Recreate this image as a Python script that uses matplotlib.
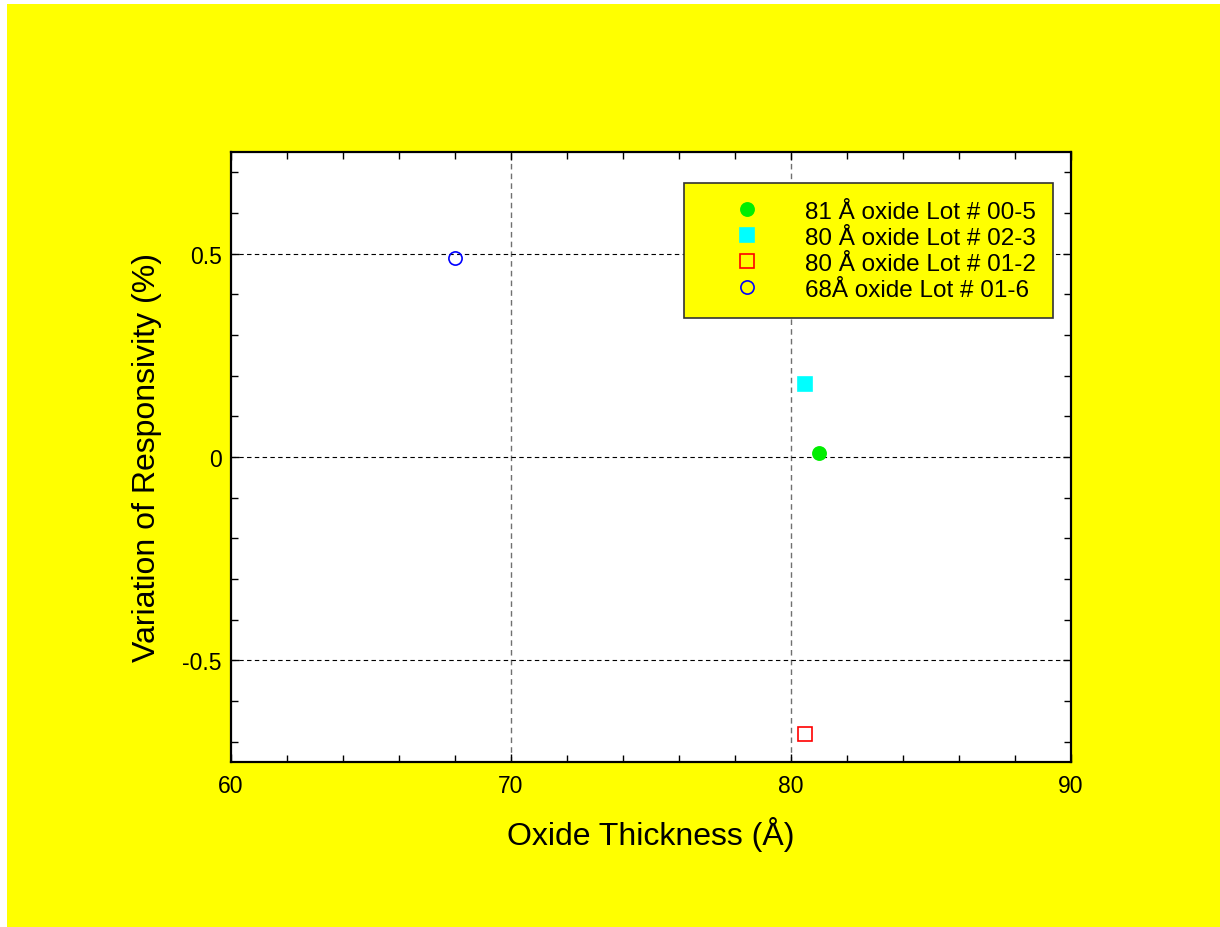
import numpy as np
from matplotlib import pyplot as plt
from matplotlib.patches import Rectangle
from matplotlib.ticker import MultipleLocator

plt.rcParams['font.family'] = ['Liberation Sans', 'DejaVu Sans']

# Data
labels = ['81 Å oxide Lot # 00-5', '80 Å oxide Lot # 02-3',
          '80 Å oxide Lot # 01-2', '68Å oxide Lot # 01-6']
thickness = [81.0, 80.5, 80.5, 68.0]
variation = [0.01, 0.18, -0.68, 0.49]
markers = ['o', 's', 's', 'o']
faces = ['#00ee00', '#00ffff', 'none', 'none']
edges = ['#00ee00', '#00ffff', '#ff0000', '#0000ff']

fig = plt.figure(figsize=(12.2, 9.28), dpi=100, facecolor='white')
# yellow page, small white margin on the left and top
fig.patches.append(Rectangle((7/1220, 0), 1 - 7/1220, 1 - 5/928,
                             transform=fig.transFigure, facecolor='#ffff00',
                             edgecolor='none', zorder=-10))

ax = fig.add_axes([231/1220, 1 - 763/928, 840/1220, 610/928])
ax.set_facecolor('white')

for x, y, m, fc, ec, lab in zip(thickness, variation, markers, faces, edges, labels):
    ax.plot([x], [y], linestyle='none', marker=m, markersize=9.5,
            markerfacecolor=fc, markeredgecolor=ec, markeredgewidth=1.2,
            label=lab, zorder=5)

ax.set_xlim(60, 90)
ax.set_ylim(-0.75, 0.75)
ax.xaxis.set_minor_locator(MultipleLocator(2))
ax.yaxis.set_minor_locator(MultipleLocator(0.1))
ax.set_yticks([-0.5, 0, 0.5])
ax.set_yticklabels(['-0.5', '0', '0.5'])
ax.set_xticks([60, 70, 80, 90])
ax.set_xticklabels(['60', '70', '80', '90'])

ax.tick_params(which='both', direction='in', top=True, right=True,
               labelsize=16.5, color='black')
ax.tick_params(which='major', length=6, width=1)
ax.tick_params(which='minor', length=5, width=1)
ax.tick_params(axis='x', which='major', pad=9)
ax.tick_params(axis='y', which='major', pad=6.5)
for s in ax.spines.values():
    s.set_linewidth(1.6)

# grid lines at the major ticks
for gx in [70, 80]:
    ax.axvline(gx, color='#707070', linestyle=(0, (4, 3)), linewidth=1, zorder=1)
for gy in [-0.5, 0, 0.5]:
    ax.axhline(gy, color='black', linestyle=(0, (4, 3)), linewidth=0.8, zorder=1)

ax.set_xlabel('Oxide Thickness (Å)', fontsize=23, labelpad=13)
ax.set_ylabel('Variation of Responsivity (%)', fontsize=23, labelpad=14.5)

leg = ax.legend(loc='upper left', bbox_to_anchor=((684-231)/840, (763-184)/610),
                fontsize=17.5, frameon=True, fancybox=False, borderpad=0.72,
                handlelength=3.74, handletextpad=0.51, labelspacing=0.17,
                borderaxespad=0)
leg.get_frame().set_facecolor('#ffff00')
leg.get_frame().set_edgecolor('#333333')
leg.get_frame().set_linewidth(1.2)
leg.get_frame().set_alpha(1)

fig.savefig('out.png', dpi=100, facecolor=fig.get_facecolor())
